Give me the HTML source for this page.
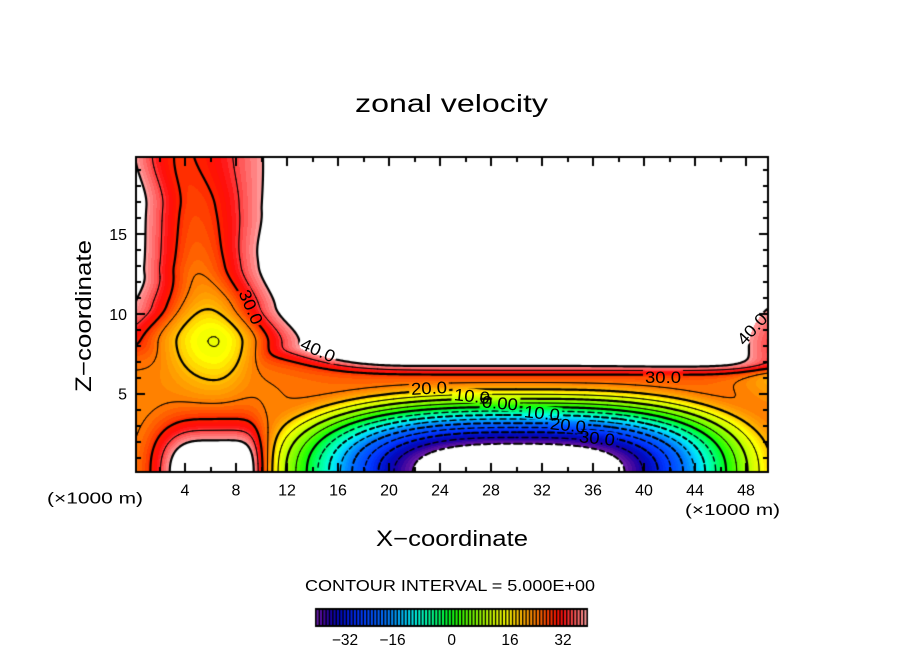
<!DOCTYPE html>
<html><head><meta charset="utf-8">
<style>
html,body{margin:0;padding:0;background:#fff;overflow:hidden;}
#wrap{position:relative;width:904px;height:654px;overflow:hidden;background:#fff;}
canvas{position:absolute;left:0;top:0;}
svg{position:absolute;left:0;top:0;}
text{font-family:"Liberation Sans","DejaVu Sans",sans-serif;fill:#000;}
</style></head><body>
<div id="wrap">
<canvas id="c" width="904" height="654"></canvas>
<svg width="904" height="654" viewBox="0 0 904 654" xmlns="http://www.w3.org/2000/svg">
<text x="451.5" y="112" font-size="25" text-anchor="middle" textLength="193" lengthAdjust="spacingAndGlyphs">zonal velocity</text>
<text x="452" y="546" font-size="22" text-anchor="middle" textLength="152" lengthAdjust="spacingAndGlyphs">X−coordinate</text>
<text transform="translate(91,316) rotate(-90)" font-size="22" text-anchor="middle" textLength="152" lengthAdjust="spacingAndGlyphs">Z−coordinate</text>
<text x="95" y="503.5" font-size="16" text-anchor="middle" textLength="96" lengthAdjust="spacingAndGlyphs">(×1000 m)</text>
<text x="732.5" y="515" font-size="16" text-anchor="middle" textLength="95" lengthAdjust="spacingAndGlyphs">(×1000 m)</text>
<g font-size="16" text-anchor="middle">
<text x="185" y="495.5">4</text><text x="236" y="495.5">8</text><text x="287" y="495.5">12</text>
<text x="338" y="495.5">16</text><text x="389" y="495.5">20</text><text x="440" y="495.5">24</text>
<text x="491" y="495.5">28</text><text x="542" y="495.5">32</text><text x="593" y="495.5">36</text>
<text x="644" y="495.5">40</text><text x="695" y="495.5">44</text><text x="746" y="495.5">48</text>
</g>
<g font-size="16" text-anchor="end">
<text x="127" y="399.5">5</text><text x="127" y="320">10</text><text x="127" y="240">15</text>
</g>
<text x="450" y="591" font-size="16" text-anchor="middle" textLength="290" lengthAdjust="spacingAndGlyphs">CONTOUR INTERVAL = 5.000E+00</text>
<g font-size="15.5" text-anchor="middle">
<text x="345" y="645">−32</text><text x="392.5" y="645">−16</text><text x="451.7" y="645">0</text>
<text x="510" y="645">16</text><text x="563" y="645">32</text>
</g>
<g font-size="17" text-anchor="middle">
<text transform="translate(251,307) rotate(66)" y="6" textLength="36" lengthAdjust="spacingAndGlyphs">30.0</text>
<text transform="translate(318,350) rotate(24)" y="6" textLength="36" lengthAdjust="spacingAndGlyphs">40.0</text>
<text transform="translate(429,388) rotate(-3)" y="6" textLength="36" lengthAdjust="spacingAndGlyphs">20.0</text>
<text transform="translate(472,396) rotate(6)" y="6" textLength="36" lengthAdjust="spacingAndGlyphs">10.0</text>
<text transform="translate(500,403) rotate(5)" y="6" textLength="36" lengthAdjust="spacingAndGlyphs">0.00</text>
<text transform="translate(542,413) rotate(6)" y="6" textLength="36" lengthAdjust="spacingAndGlyphs">10.0</text>
<text transform="translate(568,425) rotate(6)" y="6" textLength="36" lengthAdjust="spacingAndGlyphs">20.0</text>
<text transform="translate(597,438) rotate(6)" y="6" textLength="36" lengthAdjust="spacingAndGlyphs">30.0</text>
<text transform="translate(663,377) rotate(0)" y="6" textLength="36" lengthAdjust="spacingAndGlyphs">30.0</text>
<text transform="translate(752,329) rotate(-48)" y="6" textLength="36" lengthAdjust="spacingAndGlyphs">40.0</text>
</g>
</svg>
</div>
<script>
(function(){
const cv=document.getElementById('c'), ctx=cv.getContext('2d');
const X0=134, SX=12.75, Y0=474, SZ=16;
const L=136,R=768,T=157,B=472;
const BC=30.0;
function sig(t){return 1/(1+Math.exp(-t));}
function tab(t,z){ if(z<=t[0][0])return t[0][1];
  for(let i=1;i<t.length;i++){ if(z<=t[i][0]){const a=t[i-1],b=t[i]; let f=(z-a[0])/(b[0]-a[0]); f=f*f*(3-2*f); return a[1]+(b[1]-a[1])*f;} }
  return t[t.length-1][1]; }
const XC=[[0,6.3],[8.2,6.3],[10.5,5.8],[13,5.0],[16.7,4.8],[20,3.7]];
const WR=[[0,5.2],[8.2,5.2],[10.5,4.4],[13.6,4.3],[16.5,5.0],[20,6.4]];
const WL=[[0,7],[8.2,7],[10.5,4.8],[12.5,3.8],[20,3.6]];
function field(x,z){
  const zz=Math.max(z,0);
  const d=x-BC; let Db;
  const vz=Math.pow(zz/4.76,2.5);
  if(d<0){ const ad=-d; Db=95*Math.exp(-(Math.pow(ad/18.45,2.82)+vz))*sig((19.9-ad)/0.5); }
  else { Db=95*Math.exp(-(Math.pow(d/18.3,3.0)+vz)); }
  Db*=sig((7.0-zz)/0.35);
  const tt=sig((12.5-x)/2.2);
  const z0=6.51+2.1*tt, k=0.224+0.48*tt;
  const Ab=20+2*sig((12-x)/2);
  const Dband=Ab*sig((z0-zz)/k);
  const xc=tab(XC,zz);
  const dc=x-xc;
  const w= dc>0?tab(WR,zz):tab(WL,zz);
  const bz = zz>8.2?2.39:3.02;
  const A=16+3*sig((17-zz)/1.5)+11.8*Math.exp(-Math.pow((zz-8.2)/bz,2))+2*Math.exp(-Math.pow((zz-11.5)/2.5,2));
  const Dcol=A*Math.exp(-(dc/w)*(dc/w))*sig((zz-3.3)/0.5);
  const n=8;
  const D=Math.pow(Math.pow(Db,n)+Math.pow(Dband,n)+Math.pow(Dcol,n),1/n);
  const dr=Math.max(0,50-x);
  const Dr=Math.exp(-Math.pow(dr/2.5,1.5))*(4*sig((zz-5)/1)+7*Math.exp(-Math.pow((zz-8)/2.2,2)));
  const bx=x-5.8;
  const hx= bx<0 ? Math.pow(-bx/4.05,3.0) : Math.pow(bx/4.05,7);
  const P=24*Math.exp(-(hx+Math.pow(zz/3.0,2.5)));
  return 46-D-Dr+P;
}
const ST=[[-40,110,30,170],[-38,75,10,160],[-36,30,0,165],[-33,0,10,190],[-30,0,30,225],[-27,0,55,255],[-23,0,85,255],[-19,0,120,255],[-16,0,165,255],[-13,0,215,255],[-10,0,255,225],[-7,0,255,170],[-4,0,255,110],[-1,0,255,40],[2,40,255,0],[5,96,255,0],[10,176,255,0],[13,220,255,0],[16.5,255,255,0],[19,255,208,0],[22,255,165,0],[25,255,122,0],[28,255,72,0],[31,255,20,0],[33,255,15,15],[35,255,60,60],[37,255,100,100],[40,255,160,160]];
function cmap(u){
  if(u<=ST[0][0]) return [ST[0][1],ST[0][2],ST[0][3]];
  for(let i=1;i<ST.length;i++){ if(u<=ST[i][0]){const a=ST[i-1],b=ST[i],f=(u-a[0])/(b[0]-a[0]);
    return [a[1]+(b[1]-a[1])*f,a[2]+(b[2]-a[2])*f,a[3]+(b[3]-a[3])*f];} }
  const s=ST[ST.length-1]; return [s[1],s[2],s[3]];
}
const W=R-L,H=B-T;
const img=ctx.createImageData(W,H);
for(let py=T;py<B;py++){ const z=(Y0-(py+0.5))/SZ;
  for(let px=L;px<R;px++){ const x=(px+0.5-X0)/SX; const u=field(x,z);
    let r=255,g=255,b=255;
    if(u>=-40&&u<=40){ const c=cmap(Math.floor(u)+0.5); r=c[0];g=c[1];b=c[2]; }
    const i=((py-T)*W+(px-L))*4; img.data[i]=r; img.data[i+1]=g; img.data[i+2]=b; img.data[i+3]=255;
  }}
ctx.putImageData(img,L,T);
const labels=[[251,307,66],[318,350,24],[429,388,-3],[472,396,6],[500,403,5],[542,413,6],[568,425,6],[597,438,6],[663,377,0],[752,329,-48]];
ctx.save();
ctx.beginPath(); ctx.rect(L,T,W,H); ctx.clip();
const cp=new Path2D(); cp.rect(0,0,904,654);
for(const lb of labels){ const a=lb[2]*Math.PI/180, ca=Math.cos(a), sa=Math.sin(a), hw=20, hh=7.5;
  const pts=[[-hw,-hh],[hw,-hh],[hw,hh],[-hw,hh]].map(p=>[lb[0]+p[0]*ca-p[1]*sa, lb[1]+p[0]*sa+p[1]*ca]);
  cp.moveTo(pts[0][0],pts[0][1]); for(let i=1;i<4;i++)cp.lineTo(pts[i][0],pts[i][1]); cp.closePath(); }
ctx.clip(cp,'evenodd');
const xs=[],ys=[];
for(let p=L;p<R;p+=2)xs.push(p); xs.push(R);
for(let p=T;p<B;p+=2)ys.push(p); ys.push(B);
const nx=xs.length, ny=ys.length;
const V=new Float64Array(nx*ny);
for(let j=0;j<ny;j++){const z=(Y0-ys[j])/SZ; for(let i=0;i<nx;i++){V[j*nx+i]=field((xs[i]-X0)/SX,z);}}
const cxp=X0+SX*BC;
ctx.strokeStyle='#000'; ctx.lineCap='round';
for(let lv=-40;lv<=40;lv+=5){
  const path=new Path2D();
  for(let j=0;j<ny-1;j++)for(let i=0;i<nx-1;i++){
    const a=V[j*nx+i]-lv, b=V[j*nx+i+1]-lv, c=V[(j+1)*nx+i+1]-lv, d=V[(j+1)*nx+i]-lv;
    const x0=xs[i],x1=xs[i+1],y0=ys[j],y1=ys[j+1];
    const pts=[];
    if((a>0)!==(b>0)) pts.push([x0+(x1-x0)*a/(a-b), y0]);
    if((b>0)!==(c>0)) pts.push([x1, y0+(y1-y0)*b/(b-c)]);
    if((c>0)!==(d>0)) pts.push([x1+(x0-x1)*c/(c-d), y1]);
    if((d>0)!==(a>0)) pts.push([x0, y1+(y0-y1)*d/(d-a)]);
    for(let q=0;q+1<pts.length;q+=2){
      const p0=pts[q],p1=pts[q+1];
      if(lv<0){ const mx=(p0[0]+p1[0])/2, my=(p0[1]+p1[1])/2;
        const s=mx<cxp?(mx-my):(mx+my); const m=((s%10)+10)%10; if(m>=6) continue; }
      path.moveTo(p0[0],p0[1]); path.lineTo(p1[0],p1[1]);
    }
  }
  const major=(lv%10===0);
  ctx.lineWidth = lv<0 ? (major?2.0:1.4) : (major?2.2:1.0);
  ctx.stroke(path);
}
ctx.restore();
ctx.strokeStyle='#000'; ctx.lineWidth=2;
ctx.strokeRect(136,157,632,315);
ctx.beginPath();
for(let v=2; v<50; v+=2){ const px=Math.round(X0+SX*v); if(px<=L||px>=R) continue; const len=(v%4===0)?9:5;
  ctx.moveTo(px,B); ctx.lineTo(px,B-len); ctx.moveTo(px,T); ctx.lineTo(px,T+len); }
for(let v=1; v<20; v++){ const py=Math.round(Y0-SZ*v); if(py<=T||py>=B) continue; const len=(v%5===0)?9:5;
  ctx.moveTo(L,py); ctx.lineTo(L+len,py); ctx.moveTo(R,py); ctx.lineTo(R-len,py); }
ctx.stroke();
ctx.fillStyle='#000'; ctx.fillRect(315,608,273,19);
for(let i=0;i<80;i++){ const c=cmap(-39.5+i);
  ctx.fillStyle='rgb('+Math.round(c[0])+','+Math.round(c[1])+','+Math.round(c[2])+')';
  ctx.fillRect(316.6+i*3.39,610,2.0,15); }
})();
</script>
</body></html>
